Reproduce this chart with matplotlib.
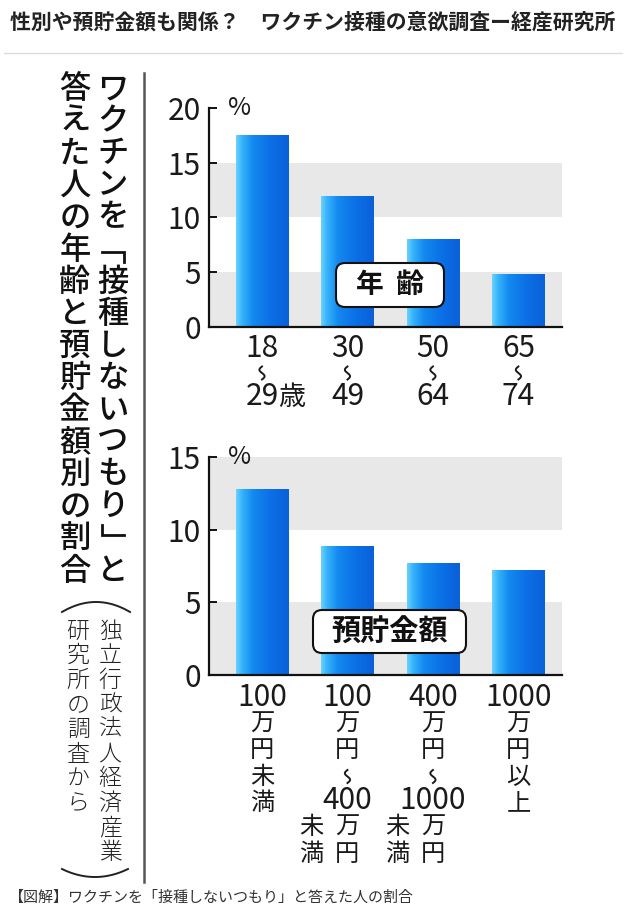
import numpy as np
import matplotlib
matplotlib.use("Agg")
import matplotlib.pyplot as plt
from matplotlib.colors import LinearSegmentedColormap
from matplotlib.patches import FancyBboxPatch
from matplotlib.transforms import blended_transform_factory

plt.rcParams['font.family'] = ['Noto Sans CJK JP', 'DejaVu Sans']

# --- data ---
age_from = ["18", "30", "50", "65"]
age_to = ["29歳", "49", "64", "74"]
age_values = [17.5, 12.0, 8.0, 4.8]
age_ticks = [0, 5, 10, 15, 20]

savings_values = [12.8, 8.9, 7.7, 7.2]
savings_labels = [
    ["100", "万", "円", "未", "満"],
    ["100", "万", "円", "〜", "400", "万", "円"],
    ["400", "万", "円", "〜", "1000", "万", "円"],
    ["1000", "万", "円", "以", "上"],
]
savings_side = ["", "未満", "未満", ""]
savings_ticks = [0, 5, 10, 15]

header = "性別や預貯金額も関係？　ワクチン接種の意欲調査ー経産研究所"
title_right = "ワクチンを「接種しないつもり」と"
title_left = "答えた人の年齢と預貯金額別の割合"
source_right = "独立行政法人経済産業"
source_left = "研究所の調査から"
caption = "【図解】ワクチンを「接種しないつもり」と答えた人の割合"

W, H = 627, 922
INK = '#1a1a1a'
DIGIT = 21.5
XMIN, XMAX = -0.62, 3.51
bar_cmap = LinearSegmentedColormap.from_list(
    "bar", [(0.0, '#6ad2ff'), (0.12, '#35b2fb'), (0.32, '#1489f0'),
            (0.65, '#0b70e6'), (1.0, '#0a60d8')])

fig = plt.figure(figsize=(W / 100, H / 100), dpi=100)
bg = fig.add_axes([0, 0, 1, 1])
bg.set_xlim(0, W)
bg.set_ylim(H, 0)
bg.axis('off')


def bar_panel(top_px, bottom_px, values, ticks):
    ax = fig.add_axes([209 / W, 1 - bottom_px / H, 353 / W, (bottom_px - top_px) / H])
    ax.set_facecolor('none')
    x = np.arange(len(values))
    bars = ax.bar(x, values, width=0.61, color='#1580ee', zorder=3)
    grad = np.linspace(0, 1, 256).reshape(1, -1)
    for b in bars:
        im = ax.imshow(grad, cmap=bar_cmap, aspect='auto', zorder=3.1,
                       extent=[b.get_x(), b.get_x() + b.get_width(), 0, b.get_height()])
        im.set_clip_path(b)
    for lo in ticks[:-1:2]:
        ax.axhspan(lo, lo + 5, color='#e8e8e8', lw=0, zorder=0)
    ax.set_xlim(XMIN, XMAX)
    ax.set_ylim(0, ticks[-1])
    for s in ['top', 'right']:
        ax.spines[s].set_visible(False)
    for s in ['left', 'bottom']:
        ax.spines[s].set_linewidth(1.6)
        ax.spines[s].set_color('#111')
        ax.spines[s].set_zorder(5)
    ax.set_xticks([])
    ax.set_yticks(ticks)
    ax.tick_params(axis='y', direction='in', length=6, width=1.4, labelsize=DIGIT,
                   pad=6, colors='#111', labelcolor=INK)
    ax.text(0.054, 1.0, "%", transform=ax.transAxes, fontsize=18, ha='left',
            va='center', color=INK)
    return ax


px_per_unit = 353 / (XMAX - XMIN)


def squiggle(x, y, tr):
    # the vertical "〜" between two numbers
    s = np.linspace(-1, 1, 40)
    bg.plot(x + 2.6 * np.sin(np.pi * s) / px_per_unit, y + 6.5 * s, transform=tr,
            color=INK, lw=1.4)


ax1 = bar_panel(108, 327, age_values, age_ticks)
ax2 = bar_panel(457, 675, savings_values, savings_ticks)

# age labels under the bars
tr1 = blended_transform_factory(ax1.transData, bg.transData)
for i, (lo, hi) in enumerate(zip(age_from, age_to)):
    bg.text(i, 348, lo, transform=tr1, ha='center', va='center', fontsize=DIGIT, color=INK)
    squiggle(i, 373, tr1)
    num = hi.rstrip("歳")
    bg.text(i, 396, num, transform=tr1, ha='center', va='center', fontsize=DIGIT, color=INK)
    if hi != num:
        bg.text(i + 0.19, 397, hi[len(num):], transform=tr1, ha='left', va='center',
                fontsize=19.5, color=INK)

# savings labels, written top to bottom
tr2 = blended_transform_factory(ax2.transData, bg.transData)
for i, tokens in enumerate(savings_labels):
    y = 697
    rows = []
    for k, tok in enumerate(tokens):
        if k > 0:
            y += 24 if tokens[k - 1] == "〜" else 26.5
        rows.append(y)
        if tok == "〜":
            squiggle(i, y, tr2)
        elif tok.isdigit():
            bg.text(i, y, tok, transform=tr2, ha='center', va='center', fontsize=DIGIT,
                    color=INK)
        else:
            bg.text(i, y, tok, transform=tr2, ha='center', va='center', fontsize=17.5,
                    color=INK)
    side = savings_side[i]
    for ch, yy in zip(side, rows[len(rows) - len(side):]):
        bg.text(i - 0.42, yy, ch, transform=tr2, ha='center', va='center',
                fontsize=17.5, color=INK)


def vertical(text, x, y0, step, **kw):
    for k, ch in enumerate(text):
        yc = y0 + step * k
        if ch == "「":
            # vertical opening bracket: bar on top, hook down on the right
            bg.plot([x - 11, x + 11, x + 11], [yc + 3, yc + 3, yc + 13],
                    color=kw.get('color', INK), lw=2, solid_joinstyle='miter')
        elif ch == "」":
            # vertical closing bracket: bar at the bottom, hook up on the left
            bg.plot([x - 11, x - 11, x + 11], [yc - 13, yc - 3, yc - 3],
                    color=kw.get('color', INK), lw=2, solid_joinstyle='miter')
        else:
            bg.text(x, yc, ch, ha='center', va='center', **kw)


# vertical title on the left
vertical(title_right, 113, 89, 32.1, fontsize=22.5, weight='medium', color='#111')
vertical(title_left, 75, 89, 32.1, fontsize=22.5, weight='medium', color='#111')

# source note in vertical brackets
vertical(source_right, 110, 631, 24.6, fontsize=16.5, weight='light', color='#222')
vertical(source_left, 78, 631, 24.6, fontsize=16.5, weight='light', color='#222')
t = np.linspace(-1, 1, 60)
bg.plot(96 + 34 * t, 612 - 10 * (1 - t ** 2), color='#222', lw=1.4)
bg.plot(95 + 33 * t, 869 + 8 * (1 - t ** 2), color='#222', lw=1.4)

# divider, header and caption
bg.plot([144, 144], [73, 882], color='#555', lw=1.8)
bg.plot([4, 622], [53, 53], color='#dcdcdc', lw=1)
bg.text(10, 22, header, ha='left', va='center', fontsize=15, weight='bold', color='#222')
bg.text(8, 898, caption, ha='left', va='center', fontsize=10.8, color='#333')

# panel name boxes
fg = fig.add_axes([0, 0, 1, 1], zorder=10)
fg.set_xlim(0, W)
fg.set_ylim(H, 0)
fg.axis('off')
for (x0, y0, w, h), name, size in [((336, 263, 108, 44), "年  齢", 20),
                                   ((313, 610, 153, 43), "預貯金額", 21)]:
    fg.add_patch(FancyBboxPatch((x0, y0), w, h, boxstyle='round,pad=0,rounding_size=9',
                                fc='white', ec='#111', lw=1.5))
    fg.text(x0 + w / 2, y0 + h / 2, name, ha='center', va='center', fontsize=size,
            weight='bold', color='#111')

fig.savefig("out.png", dpi=100)
